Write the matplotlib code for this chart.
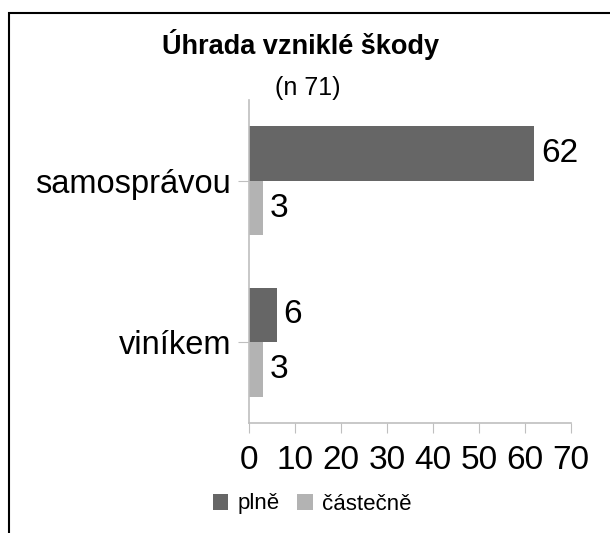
import numpy as np
import matplotlib.pyplot as plt
from matplotlib.patches import Rectangle

plt.rcParams['font.family'] = ['Liberation Sans', 'DejaVu Sans']

# data
categories = ["samosprávou", "viníkem"]
plne = [62, 6]
castecne = [3, 3]
series_names = ["plně", "částečně"]
colors = ["#666666", "#b3b3b3"]
grid_col = "#bfbfbf"

fig = plt.figure(figsize=(6.10, 5.33), dpi=100)
ax = fig.add_axes([249/610, 1 - 423/533, 322/610, 323/533])

y = np.arange(len(categories))[::-1]  # first category on top
h = 0.3375
b1 = ax.barh(y + h/2, plne, height=h, color=colors[0], label=series_names[0])
b2 = ax.barh(y - h/2, castecne, height=h, color=colors[1], label=series_names[1])

# value labels next to the bars
for bars in (b1, b2):
    for r in bars:
        w = r.get_width()
        ax.annotate(str(w), (w, r.get_y() + r.get_height()/2), xytext=(5, 0),
                    textcoords="offset points", va="center", ha="left", fontsize=24)

ax.set_xlim(0, 70)
ax.set_ylim(-0.5, 1.5)
ax.set_xticks(np.arange(0, 71, 10))
ax.set_yticks(y)
ax.set_yticklabels(categories)
ax.tick_params(axis="x", length=7, color=grid_col, labelsize=24, pad=9)
ax.tick_params(axis="y", length=8, color=grid_col, labelsize=23.5, pad=5)

for s in ["top", "right"]:
    ax.spines[s].set_visible(False)
for s in ["left", "bottom"]:
    ax.spines[s].set_color(grid_col)
    ax.spines[s].set_linewidth(1.2)

fig.text(301/610, 1 - 45/533, "Úhrada vzniklé škody", ha="center", va="center",
         fontsize=19.5, fontweight="bold")
fig.text(308/610, 1 - 88/533, "(n 71)", ha="center", va="center", fontsize=18)

fig.legend(handles=[b1, b2], labels=series_names, loc="center",
           bbox_to_anchor=(312/610, 1 - 504/533), ncol=2, frameon=False,
           fontsize=16, handlelength=0.7, handleheight=0.7, handletextpad=0.4,
           columnspacing=0.8)

# outer frame (only left/top visible in the crop)
fig.patches.append(Rectangle((9/610, -0.2), 1.2, 1 - 13/533 + 0.2, transform=fig.transFigure,
                             fill=False, edgecolor="black", linewidth=1.5))

fig.savefig("out.png", dpi=100)
